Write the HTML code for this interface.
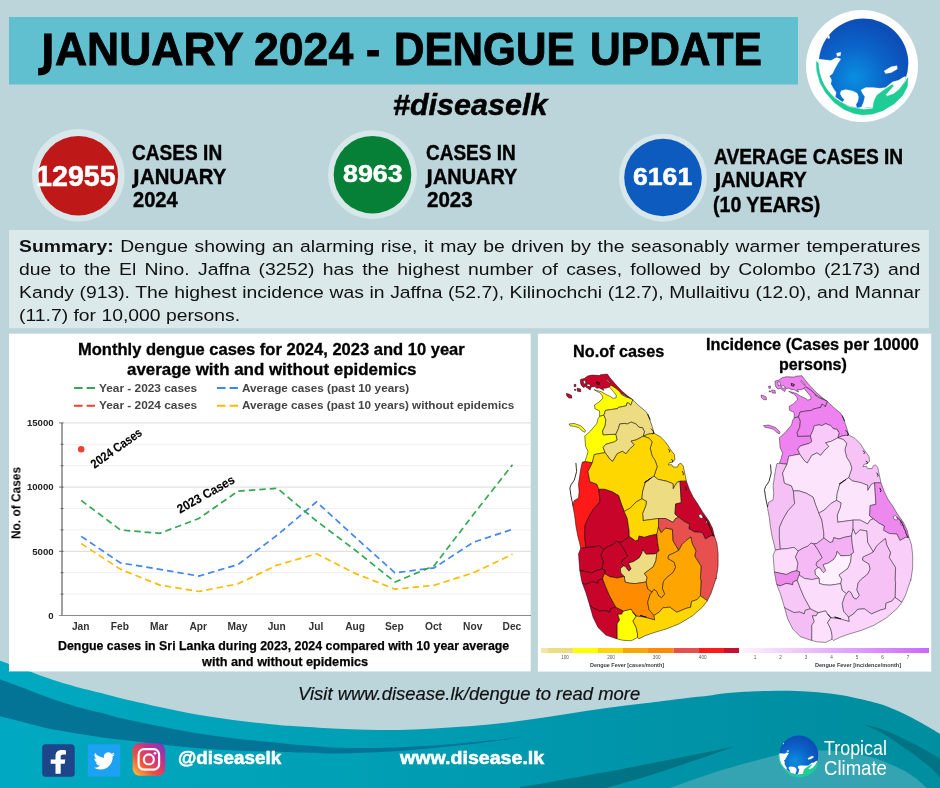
<!DOCTYPE html>
<html><head><meta charset="utf-8"><title>January 2024 - Dengue Update</title>
<style>
html,body{margin:0;padding:0}
body{width:940px;height:788px;position:relative;overflow:hidden;background:#bbd5db;font-family:"Liberation Sans", sans-serif;}
.t{position:absolute;white-space:nowrap;line-height:1;transform-origin:0 50%;}
.abs{position:absolute}
.sj,.sn{position:absolute;left:19.1px;width:810.6px;font-size:17.4px;line-height:1;color:#111;white-space:nowrap;transform:scaleX(1.112);transform-origin:0 50%}
.sj{text-align:justify;text-align-last:justify;white-space:normal}
svg text{font-family:"Liberation Sans", sans-serif;}
</style></head><body>
<div id="root" style="position:absolute;left:0;top:0;width:940px;height:788px;will-change:transform">
<svg class="abs" style="left:0;top:0" width="940" height="788" viewBox="0 0 940 788">
<defs><linearGradient id="ftg" gradientUnits="userSpaceOnUse" x1="0" x2="940" y1="0" y2="0"><stop offset="0" stop-color="#00a9c1"/><stop offset="0.37" stop-color="#00a0b5"/><stop offset="0.64" stop-color="#0095ab"/><stop offset="0.9" stop-color="#008ea1"/><stop offset="1" stop-color="#008ea1"/></linearGradient><linearGradient id="incg" x1="0" x2="1" y1="0" y2="0"><stop offset="0" stop-color="#fdf2fd"/><stop offset="1" stop-color="#cc66ff"/></linearGradient><clipPath id="glca"><circle cx="405" cy="375" r="315"/></clipPath><radialGradient id="glba" cx="0.4" cy="0.66" r="0.62"><stop offset="0" stop-color="#0a8fe0"/><stop offset="0.6" stop-color="#0b62c8"/><stop offset="1" stop-color="#0d4fb8"/></radialGradient><linearGradient id="ig" x1="0" x2="1" y1="1" y2="0"><stop offset="0" stop-color="#fdc843"/><stop offset="0.35" stop-color="#f0503a"/><stop offset="0.7" stop-color="#c42d91"/><stop offset="1" stop-color="#6a3fc8"/></linearGradient></defs>
<path d="M0.0,660.7 C1.5,661.2 3.9,662.1 8.9,663.9 C13.9,665.7 23.0,669.0 30.0,671.6 C37.0,674.2 43.3,676.8 51.1,679.3 C58.9,681.8 68.1,684.6 76.6,686.9 C85.1,689.2 95.0,691.4 102.2,693.3 C109.4,695.1 110.7,695.8 120.0,698.0 C129.3,700.2 145.5,704.0 158.3,706.8 C171.1,709.5 183.8,712.3 196.6,714.5 C209.4,716.7 222.1,718.5 234.9,720.2 C247.7,721.9 262.3,723.5 273.2,724.6 C284.1,725.7 289.1,725.9 300.0,726.6 C310.9,727.3 325.5,728.2 338.3,728.8 C351.1,729.3 363.8,729.8 376.6,729.9 C389.4,730.0 402.1,729.8 414.9,729.4 C427.7,729.0 440.4,728.1 453.2,727.3 C466.0,726.4 478.7,725.6 491.5,724.3 C504.3,723.0 517.2,721.3 530.0,719.5 C542.8,717.7 555.5,715.6 568.3,713.7 C581.1,711.8 593.8,709.8 606.6,708.0 C619.4,706.2 632.1,704.8 644.9,703.2 C657.7,701.6 672.4,699.7 683.2,698.4 C694.1,697.1 703.0,696.4 710.0,695.5 C717.0,694.6 718.7,694.0 725.5,693.3 C732.3,692.6 742.5,691.9 751.0,691.5 C759.5,691.1 768.1,690.8 776.6,690.7 C785.1,690.7 793.5,690.8 802.0,691.2 C810.5,691.6 819.1,692.3 827.6,693.3 C836.1,694.3 844.5,695.6 853.2,697.4 C861.9,699.2 873.4,702.0 880.0,703.9 C886.6,705.8 888.5,706.9 892.8,708.7 C897.0,710.5 901.2,712.4 905.5,714.5 C909.8,716.6 914.0,718.9 918.3,721.2 C922.5,723.5 927.4,726.4 931.0,728.5 C934.6,730.6 938.5,733.0 940.0,733.9  L940,788 L0,788 Z" fill="url(#ftg)"/><path d="M0.0,679.3 C4.2,680.9 17.0,685.6 25.5,688.8 C34.0,692.0 42.6,695.4 51.1,698.4 C59.6,701.4 68.1,704.2 76.6,706.7 C85.1,709.2 95.0,711.2 102.2,713.1 C109.4,715.0 110.7,715.9 120.0,718.0 C129.3,720.1 145.5,723.5 158.3,726.0 C171.1,728.5 183.8,731.1 196.6,733.2 C209.4,735.3 222.1,736.9 234.9,738.4 C247.7,739.9 262.3,741.1 273.2,742.2 C284.1,743.3 289.1,744.1 300.0,745.0 C310.9,745.9 325.5,747.2 338.3,747.7 C351.1,748.2 363.8,748.2 376.6,748.0 C389.4,747.8 402.1,747.2 414.9,746.5 C427.7,745.8 440.4,744.9 453.2,743.9 C466.0,742.9 478.7,741.6 491.5,740.3 C504.3,739.0 523.4,737.0 529.8,736.3  L529.8,736.3 C523.4,737.1 504.3,739.8 491.5,741.4 C478.7,743.0 466.0,744.6 453.2,746.0 C440.4,747.4 427.7,748.8 414.9,749.8 C402.1,750.8 389.4,751.7 376.6,752.3 C363.8,752.9 351.1,753.5 338.3,753.6 C325.5,753.7 310.9,752.9 300.0,752.6 C289.1,752.3 284.1,752.1 273.2,751.8 C262.3,751.4 247.7,751.1 234.9,750.5 C222.1,749.9 209.4,749.0 196.6,748.0 C183.8,747.0 171.1,745.6 158.3,744.2 C145.5,742.8 129.3,740.7 120.0,739.6 C110.7,738.5 109.4,738.4 102.2,737.4 C95.0,736.4 85.1,734.9 76.6,733.5 C68.1,732.1 59.6,730.9 51.1,729.1 C42.6,727.3 34.0,724.8 25.5,722.7 C17.0,720.6 4.2,717.4 0.0,716.3  Z" fill="#047496"/><path d="M520,788 L520,786.9 C535,785 548,782.5 560,780.3 C590,775 615,770.5 636.6,766.3 C655,762.5 672,759.5 687.7,756.1 C705,752.5 722,749 734.9,746.4 C722,751 712,754.5 700.4,758.6 C687,763 675,767 662.1,771.4 C642,778 622,783.5 606,788 Z" fill="#007484"/><path d="M669.8,788 C685,782.5 700,777 713.2,772.7 C730,767.5 748,762.5 760,759.5 C770,756.5 780,754 790,752.5 C800,751 810,750.5 820,750.5 C830,750.5 840,751 850,752.5 C861,754.5 871,757 880,760 C889,763.5 897,767 905,771 C913,775.5 920,781.5 926.6,788 Z" fill="#34a4b3"/><path d="M864.4,724.7 C866.2,725.1 871.5,726.0 875.5,727.2 C879.5,728.4 884.0,730.0 888.3,731.7 C892.5,733.4 897.4,735.7 901.0,737.4 C904.6,739.1 906.8,740.1 910.0,741.7 C913.2,743.3 916.9,745.3 920.3,747.2 C923.7,749.1 927.2,751.0 930.5,753.0 C933.8,755.0 938.4,757.9 940.0,758.9  L940.0,777.5 C939.6,777.1 939.2,776.7 937.6,775.0 C936.0,773.3 933.4,770.1 930.5,767.5 C927.6,764.9 923.7,762.0 920.3,759.4 C916.9,756.8 913.4,754.1 910.2,751.8 C907.0,749.5 904.6,748.2 901.0,745.7 C897.4,743.2 892.5,739.4 888.3,736.8 C884.0,734.1 879.5,731.8 875.5,729.8 C871.5,727.8 866.2,725.6 864.4,724.7  Z" fill="#007484"/>
<rect x="9" y="17" width="789" height="67.5" fill="#60c0d0"/>
<circle cx="862" cy="66" r="56" fill="#fff"/>
<g transform="translate(806,10) scale(0.14213)"><path d="M72,360 L76,430 L98,510 L138,582 L198,650 L268,700 L338,728 L400,738 L470,732 L540,708 L610,660 L665,600 L700,535 L716,478 L700,520 L660,600 L600,655 L520,690 L405,700 L300,680 L200,620 L130,530 L95,440 L86,375 Z" fill="#1dcd94" stroke="#1dcd94" stroke-width="3" stroke-linejoin="round"/><circle cx="405" cy="375" r="315" fill="url(#glba)"/><g clip-path="url(#glca)"><path d="M60,345 L92,345 L130,350 L175,355 L215,335 L245,345 L225,375 L205,410 L185,450 L165,465 L180,490 L175,520 L195,555 L213,580 L206,612 L232,630 L256,648 L270,632 L252,612 L240,590 L247,568 L280,560 L330,570 L360,585 L370,610 L366,640 L352,665 L358,690 L390,682 L404,650 L414,610 L397,585 L387,562 L420,545 L470,545 L520,550 L560,545 L610,505 L650,495 L690,470 L720,470 L780,470 L780,760 L40,760 Z" fill="#fff" stroke="#fff" stroke-width="1.5" stroke-linejoin="round"/><path d="M215,305 L245,298 L242,320 L220,326 Z M550,430 L600,400 L640,393 L642,415 L600,440 L560,446 Z M150,182 L163,178 L166,198 L154,200 Z" fill="#fff" stroke="#fff" stroke-width="3" stroke-linejoin="round"/></g><path d="M470,700 L480,640 L500,600 L560,555 L608,525 L614,535 L578,575 L560,595 L570,608 L620,590 L660,555 L700,505 L716,478 L712,540 L680,600 L620,660 L540,705 Z" fill="#1dcd94" stroke="#1dcd94" stroke-width="5" stroke-linejoin="round"/></g>
<circle cx="78.3" cy="175.3" r="46.3" fill="#d7e7ea"/><circle cx="78.3" cy="175.8" r="39.8" fill="#bf1818"/>
<circle cx="372.5" cy="174.7" r="44.5" fill="#d7e7ea"/><circle cx="372.5" cy="174.7" r="38.8" fill="#058036"/>
<circle cx="663" cy="177.7" r="44" fill="#d7e7ea"/><circle cx="663" cy="177.5" r="38.8" fill="#0e5bbf"/>
<rect x="9" y="230" width="919.8" height="98.3" fill="#dbe9eb"/>
<rect x="9" y="333.7" width="521.7" height="337.7" fill="#fff"/>
<rect x="537.9" y="333.7" width="393.3" height="337.9" fill="#fff"/>
<line x1="62" x2="531" y1="422.9" y2="422.9" stroke="#dadada" stroke-width="1"/><line x1="59" x2="63.5" y1="422.9" y2="422.9" stroke="#555" stroke-width="0.8"/><line x1="62" x2="531" y1="444.3" y2="444.3" stroke="#eeeeee" stroke-width="0.9"/><line x1="60.5" x2="63.5" y1="444.3" y2="444.3" stroke="#555" stroke-width="0.8"/><line x1="62" x2="531" y1="465.7" y2="465.7" stroke="#eeeeee" stroke-width="0.9"/><line x1="60.5" x2="63.5" y1="465.7" y2="465.7" stroke="#555" stroke-width="0.8"/><line x1="62" x2="531" y1="487.1" y2="487.1" stroke="#dadada" stroke-width="1"/><line x1="59" x2="63.5" y1="487.1" y2="487.1" stroke="#555" stroke-width="0.8"/><line x1="62" x2="531" y1="508.5" y2="508.5" stroke="#eeeeee" stroke-width="0.9"/><line x1="60.5" x2="63.5" y1="508.5" y2="508.5" stroke="#555" stroke-width="0.8"/><line x1="62" x2="531" y1="529.9" y2="529.9" stroke="#eeeeee" stroke-width="0.9"/><line x1="60.5" x2="63.5" y1="529.9" y2="529.9" stroke="#555" stroke-width="0.8"/><line x1="62" x2="531" y1="551.3" y2="551.3" stroke="#dadada" stroke-width="1"/><line x1="59" x2="63.5" y1="551.3" y2="551.3" stroke="#555" stroke-width="0.8"/><line x1="62" x2="531" y1="572.7" y2="572.7" stroke="#eeeeee" stroke-width="0.9"/><line x1="60.5" x2="63.5" y1="572.7" y2="572.7" stroke="#555" stroke-width="0.8"/><line x1="62" x2="531" y1="594.1" y2="594.1" stroke="#eeeeee" stroke-width="0.9"/><line x1="60.5" x2="63.5" y1="594.1" y2="594.1" stroke="#555" stroke-width="0.8"/><line x1="62" x2="62" y1="422.9" y2="615.5" stroke="#444" stroke-width="1"/><line x1="59" x2="531" y1="615.5" y2="615.5" stroke="#888" stroke-width="1.2"/><polyline points="81.2,543.6 120.5,569.3 159.7,585.1 198.9,591.5 238.1,583.8 277.3,565.1 316.5,553.8 355.7,573.6 394.9,589.2 434.1,585.3 473.3,572.8 512.5,554.3" fill="none" stroke="#fbbc04" stroke-width="1.7" stroke-dasharray="6.5 4"/><polyline points="81.2,536.4 120.5,562.9 159.7,569.3 198.9,576.1 238.1,564.5 277.3,535.1 316.5,501.8 355.7,537.7 394.9,572.8 434.1,567.9 473.3,542.3 512.5,529.3" fill="none" stroke="#4285f4" stroke-width="1.7" stroke-dasharray="6.5 4"/><polyline points="81.2,500.4 120.5,530.0 159.7,533.3 198.9,518.5 238.1,491.1 277.3,488.3 316.5,521.0 355.7,550.5 394.9,582.0 434.1,565.8 473.3,514.6 512.5,464.7" fill="none" stroke="#34a853" stroke-width="1.7" stroke-dasharray="6.5 4"/><circle cx="81.2" cy="449.2" r="3.3" fill="#ea4335"/><line x1="74" x2="95" y1="388" y2="388" stroke="#34a853" stroke-width="2.1" stroke-dasharray="8.6 4"/><line x1="74" x2="95" y1="405.7" y2="405.7" stroke="#ea4335" stroke-width="2.1" stroke-dasharray="8.6 4"/><line x1="217" x2="238" y1="388" y2="388" stroke="#4285f4" stroke-width="2.1" stroke-dasharray="8.6 4"/><line x1="217" x2="238" y1="405.7" y2="405.7" stroke="#fbbc04" stroke-width="2.1" stroke-dasharray="8.6 4"/><text x="53.6" y="618.8" text-anchor="end" font-size="9.6" font-weight="bold" fill="#222">0</text><text x="53.6" y="554.6" text-anchor="end" font-size="9.6" font-weight="bold" fill="#222">5000</text><text x="53.6" y="490.4" text-anchor="end" font-size="9.6" font-weight="bold" fill="#222">10000</text><text x="53.6" y="426.2" text-anchor="end" font-size="9.6" font-weight="bold" fill="#222">15000</text><text x="80.7" y="630.3" text-anchor="middle" font-size="10.2" font-weight="bold" fill="#333">Jan</text><text x="119.9" y="630.3" text-anchor="middle" font-size="10.2" font-weight="bold" fill="#333">Feb</text><text x="159.1" y="630.3" text-anchor="middle" font-size="10.2" font-weight="bold" fill="#333">Mar</text><text x="198.3" y="630.3" text-anchor="middle" font-size="10.2" font-weight="bold" fill="#333">Apr</text><text x="237.5" y="630.3" text-anchor="middle" font-size="10.2" font-weight="bold" fill="#333">May</text><text x="276.7" y="630.3" text-anchor="middle" font-size="10.2" font-weight="bold" fill="#333">Jun</text><text x="315.9" y="630.3" text-anchor="middle" font-size="10.2" font-weight="bold" fill="#333">Jul</text><text x="355.1" y="630.3" text-anchor="middle" font-size="10.2" font-weight="bold" fill="#333">Aug</text><text x="394.3" y="630.3" text-anchor="middle" font-size="10.2" font-weight="bold" fill="#333">Sep</text><text x="433.5" y="630.3" text-anchor="middle" font-size="10.2" font-weight="bold" fill="#333">Oct</text><text x="472.7" y="630.3" text-anchor="middle" font-size="10.2" font-weight="bold" fill="#333">Nov</text><text x="511.9" y="630.3" text-anchor="middle" font-size="10.2" font-weight="bold" fill="#333">Dec</text><text transform="translate(16.4,503) rotate(-90)" text-anchor="middle" font-size="12.8" font-weight="bold" y="4.4" textLength="72" lengthAdjust="spacingAndGlyphs">No. of Cases</text><text transform="translate(94.6,468.9) rotate(-35.5)" font-size="12.6" font-weight="bold" stroke="#000" stroke-width="0.12" textLength="59.5" lengthAdjust="spacingAndGlyphs">2024 Cases</text><text transform="translate(180,513.8) rotate(-29.5)" font-size="12.6" font-weight="bold" stroke="#000" stroke-width="0.12" textLength="64" lengthAdjust="spacingAndGlyphs">2023 Cases</text>
<g stroke="#000" stroke-width="0.5" stroke-linejoin="round"><polygon points="580.5,379.4 584.3,378.5 587.7,376.0 591.9,375.1 599.6,375.5 600.5,374.7 607.3,374.1 610.2,378.1 614.9,383.6 621.7,390.9 627.7,396.0 632.8,399.8 626.4,396.8 621.7,394.3 620.0,392.1 615.8,388.3 611.1,385.3 609.4,387.0 605.5,388.3 603.0,387.9 603.9,390.4 601.3,389.1 599.2,387.9 596.6,388.3 594.9,386.6 591.1,387.0 590.2,390.0 587.7,388.3 585.5,386.6 583.4,387.4 581.3,385.3 580.5,382.8" fill="#c8042a"/><polygon points="574.1,384.5 575.8,384.3 575.9,386.6 574.2,386.7" fill="#c8042a"/><polygon points="577.0,388.3 580.5,388.9 580.9,391.7 577.5,391.3" fill="#c8042a"/><polygon points="566.4,393.4 569.0,394.1 571.5,395.5 571.9,398.1 569.0,398.1 566.8,396.0" fill="#c8042a"/><polygon points="574.5,389.1 575.9,389.4 575.8,390.4 574.6,390.3" fill="#c8042a"/><polygon points="594.1,389.6 596.6,390.4 598.7,390.9 602.1,392.1 605.5,394.3 610.2,396.4 613.2,398.5 616.2,397.7 616.2,395.1 613.2,391.3 609.4,387.0 611.1,385.3 615.8,388.3 620.0,392.1 621.7,394.3 626.4,396.8 632.8,399.8 630.7,405.3 628.5,402.8 626.8,403.2 626.4,405.7 622.6,406.6 618.3,407.4 617.5,408.7 610.7,409.6 605.5,410.4 603.9,415.1 599.6,416.4 599.6,410.9 594.9,408.7 594.5,404.9 598.7,402.3 603.0,398.1 602.1,395.5 599.6,392.6 596.6,391.3" fill="#ffff00"/><polygon points="599.6,416.4 603.9,415.1 605.8,419.6 605.1,425.9 602.6,431.0 603.2,434.8 615.9,434.2 617.2,439.9 614.6,441.8 605.8,444.3 603.2,447.5 605.1,452.6 594.3,454.5 593.1,459.5 592.4,462.7 584.8,461.7 586.7,456.4 588.0,451.3 585.5,446.2 584.8,436.1 590.5,431.0 596.9,423.4 598.1,418.3" fill="#ffff00"/><polygon points="569.0,424.0 574.0,423.4 581.0,425.9 585.5,430.4 584.8,432.3 582.3,431.0 579.1,427.8 575.3,426.6 570.2,425.7" fill="#ffff00"/><polygon points="603.9,415.1 605.5,410.4 610.7,409.6 617.5,408.7 618.3,407.4 622.6,406.6 626.4,405.7 626.8,403.2 628.5,402.8 630.7,405.3 632.8,399.8 638.8,405.6 646.4,411.9 650.2,419.6 647.7,414.0 650.9,422.8 652.8,428.6 654.0,433.2 647.7,434.3 643.2,436.2 644.5,431.1 643.8,430.4 642.6,427.8 638.8,427.2 636.2,424.0 631.1,422.1 627.3,424.0 624.8,423.4 619.7,424.0 618.5,428.4 615.9,434.2 603.2,434.8 602.6,431.0 605.1,425.9 605.8,419.6" fill="#eedc82"/><polygon points="615.9,434.2 618.5,428.4 619.7,424.0 624.8,423.4 627.3,424.0 631.1,422.1 636.2,424.0 638.8,427.2 642.6,427.8 643.8,430.4 644.5,431.1 643.2,436.2 636.2,439.9 631.1,441.1 634.3,444.9 629.9,448.8 626.1,453.8 622.3,451.3 617.2,453.8 612.7,461.4 609.6,458.9 605.1,452.6 603.2,447.5 605.8,444.3 614.6,441.8 617.2,439.9" fill="#eedc82"/><polygon points="643.2,436.2 647.7,434.3 654.0,433.2 660.4,436.8 665.5,441.9 670.5,449.5 674.3,454.6 675.0,459.6 672.4,462.2 669.3,462.8 668.2,465.0 671.8,464.7 673.1,467.0 677.5,467.0 678.8,464.1 680.9,463.2 683.2,466.0 684.5,472.3 686.4,481.2 680.0,481.2 676.9,482.5 673.1,488.8 673.1,483.8 666.7,481.2 657.8,479.3 654.0,476.1 657.2,466.6 655.3,460.9 652.1,455.8 650.2,448.2 652.1,441.9 649.0,438.1" fill="#ffd700"/><polygon points="584.8,461.7 592.4,462.7 588.0,471.5 589.9,481.6 596.9,484.2 598.8,489.3 600.0,501.9 593.1,509.6 588.0,518.5 584.8,526.1 584.8,536.2 585.8,547.6 580.7,548.5 579.8,543.8 577.8,536.2 575.9,526.1 574.7,515.9 572.8,505.8 574.0,500.7 578.5,498.1 579.1,491.8 578.5,484.2 579.8,475.3 581.0,467.7 582.3,462.0 584.8,461.7" fill="#ff1a1a"/><polygon points="605.1,452.6 609.6,458.9 612.7,461.4 617.2,453.8 622.3,451.3 626.1,453.8 629.9,448.8 634.3,444.9 631.1,441.1 636.2,439.9 643.2,436.2 649.0,438.1 652.1,441.9 650.2,448.2 652.1,455.8 655.3,460.9 657.2,466.6 654.0,476.1 644.5,482.5 651.5,477.8 645.1,482.9 642.6,491.8 641.9,498.8 636.2,501.9 629.9,508.3 624.2,511.5 621.0,503.2 618.5,495.6 612.1,491.8 604.5,489.3 598.8,489.3 596.9,484.2 589.9,481.6 588.0,471.5 592.4,462.7 593.1,459.5 594.3,454.5" fill="#ffd700"/><polygon points="598.8,489.3 604.5,489.3 612.1,491.8 618.5,495.6 621.0,503.2 624.2,511.5 627.3,518.5 629.2,531.1 629.3,536.5 622.2,541.9 619.1,542.3 616.4,541.4 613.3,544.5 608.9,546.3 603.5,549.4 599.4,545.7 593.1,547.0 585.8,547.6 584.8,536.2 584.8,526.1 588.0,518.5 593.1,509.6 600.0,501.9" fill="#c8042a"/><polygon points="641.9,498.8 642.6,491.8 645.1,482.9 651.5,477.8 644.5,482.5 654.0,476.1 657.8,479.3 666.7,481.2 673.1,483.8 673.1,488.8 676.9,482.5 680.0,481.2 681.3,502.7 675.6,504.0 675.0,514.1 678.8,517.3 675.6,518.5 673.1,522.4 665.5,518.5 658.5,518.5 649.0,519.8 643.9,520.5 643.2,521.0 642.6,513.4 645.7,505.8 646.4,501.3" fill="#eedc82"/><polygon points="680.0,481.2 686.4,481.2 689.6,490.0 693.4,497.6 697.8,504.0 702.3,511.6 708.6,520.5 712.4,528.1 714.3,535.7 711.1,535.7 705.4,538.9 702.3,532.5 694.6,531.9 688.9,528.7 689.6,524.3 684.5,521.7 678.8,517.3 675.0,514.1 675.6,504.0 681.3,502.7" fill="#c8042a"/><polygon points="624.2,511.5 629.9,508.3 636.2,501.9 641.9,498.8 646.4,501.3 645.7,505.8 642.6,513.4 643.2,521.0 643.9,520.5 649.0,519.8 658.5,518.5 658.5,526.8 656.9,534.3 649.8,535.7 644.4,537.4 639.1,536.1 638.2,540.1 635.5,541.0 629.3,536.5 629.2,531.1 627.3,518.5" fill="#ffd700"/><polygon points="629.3,536.5 635.5,541.0 638.2,540.1 639.1,536.1 644.4,537.4 649.8,535.7 656.9,534.3 657.7,542.8 659.1,550.8 656.9,552.5 655.1,553.9 646.2,554.3 644.0,551.6 642.6,549.9 641.8,553.4 639.1,557.9 633.8,561.4 628.4,563.2 630.6,567.6 631.1,569.0 628.9,571.2 626.6,568.5 625.8,566.8 623.5,565.9 621.3,563.2 622.2,560.5 627.5,556.1 626.6,554.3 623.1,548.1 619.1,542.3 622.2,541.9" fill="#c8042a"/><polygon points="619.1,542.3 616.4,541.4 613.3,544.5 608.9,546.3 603.5,549.4 600.7,555.1 603.2,561.5 602.0,569.1 605.1,570.4 604.5,573.5 609.6,576.7 617.2,578.0 624.4,576.5 620.9,573.0 620.4,568.5 623.5,565.9 621.3,563.2 622.2,560.5 627.5,556.1 626.6,554.3 623.1,548.1" fill="#c8042a"/><polygon points="580.7,548.5 585.8,547.6 593.1,547.0 599.4,545.7 603.5,549.4 600.7,555.1 603.2,561.5 602.0,569.1 596.9,570.4 591.8,572.9 585.5,571.6 579.8,570.4 578.5,553.9" fill="#c8042a"/><polygon points="579.8,570.4 585.5,571.6 591.8,572.9 596.9,570.4 602.0,569.1 605.1,570.4 604.5,573.5 602.6,578.6 598.1,580.5 598.1,583.1 591.8,581.8 585.5,584.3 582.3,583.1 581.6,580.5" fill="#c8042a"/><polygon points="582.3,583.1 585.5,584.3 591.8,581.8 598.1,583.1 598.1,580.5 602.6,578.6 605.8,586.9 609.6,595.8 615.9,607.2 610.8,608.5 609.6,612.3 605.1,610.4 599.4,611.0 591.8,607.2 589.9,605.9 586.1,593.2" fill="#c8042a"/><polygon points="589.9,605.9 591.8,607.2 599.4,611.0 605.1,610.4 609.6,612.3 610.8,608.5 615.9,607.2 623.5,611.0 621.6,614.2 617.8,614.2 619.7,619.9 617.2,623.7 617.2,638.9 605.8,635.1 598.1,627.5 593.1,617.3" fill="#c8042a"/><polygon points="617.2,638.9 617.2,623.7 619.7,619.9 617.8,614.2 621.6,614.2 623.5,611.0 631.1,609.1 633.0,612.3 636.2,616.1 633.0,621.1 636.2,627.5 637.5,633.8 637.5,637.6 631.1,640.8 622.3,640.2" fill="#ffff00"/><polygon points="656.9,552.5 655.1,553.9 646.2,554.3 644.0,551.6 642.6,549.9 641.8,553.4 639.1,557.9 633.8,561.4 628.4,563.2 630.6,567.6 631.1,569.0 628.9,571.2 626.6,568.5 625.8,566.8 623.5,565.9 620.4,568.5 620.9,573.0 624.4,576.5 624.9,581.9 629.3,583.2 635.5,583.6 641.8,582.7 646.2,581.9 647.1,577.4 644.4,573.4 649.8,569.4 653.3,566.8 656.0,560.5" fill="#eedc82"/><polygon points="604.5,573.5 609.6,576.7 617.2,578.0 624.4,576.5 624.9,581.9 629.3,583.2 635.5,583.6 641.8,582.7 646.2,581.9 647.7,588.8 652.1,592.0 650.2,594.5 647.7,602.1 649.0,609.7 654.0,615.4 654.7,619.9 647.7,618.0 640.1,615.4 646.4,617.3 636.2,616.1 633.0,612.3 631.1,609.1 623.5,611.0 615.9,607.2 609.6,595.8 605.8,586.9 602.6,578.6" fill="#ff8c00"/><polygon points="658.5,526.8 656.9,534.3 657.7,542.8 659.1,550.8 656.9,552.5 656.0,560.5 653.3,566.8 649.8,569.4 644.4,573.4 647.1,577.4 646.2,581.9 647.7,588.8 652.1,592.0 654.0,589.4 656.6,591.3 658.5,595.8 661.6,597.7 664.8,593.9 662.3,588.1 663.5,581.4 666.7,577.6 673.1,572.5 675.6,567.4 674.3,562.3 668.0,558.5 668.6,555.4 675.6,552.2 678.8,550.3 673.1,540.8 672.4,529.3 665.5,528.1 661.0,532.5" fill="#ffa500"/><polygon points="658.5,518.5 665.5,518.5 673.1,522.4 675.6,518.5 678.8,517.3 684.5,521.7 689.6,524.3 688.9,528.7 694.6,531.9 702.3,532.5 705.4,538.9 711.1,535.7 714.3,535.7 716.9,543.3 718.1,553.5 718.1,566.1 716.2,578.8 716.2,578.0 711.1,593.2 707.3,600.8 700.4,595.8 701.0,580.5 700.4,578.8 701.0,566.1 694.6,556.0 695.9,550.9 692.1,543.3 690.8,537.0 685.8,540.8 682.0,544.6 678.8,550.3 673.1,540.8 672.4,529.3 665.5,528.1 661.0,532.5 658.5,526.8" fill="#e85050"/><polygon points="678.8,550.3 682.0,544.6 685.8,540.8 690.8,537.0 692.1,543.3 695.9,550.9 694.6,556.0 701.0,566.1 700.4,578.8 701.0,580.5 700.4,595.8 697.2,599.6 691.5,601.5 690.8,607.2 685.8,608.5 676.9,612.3 673.1,609.7 669.9,607.2 662.9,607.8 659.1,612.3 654.0,615.4 649.0,609.7 647.7,602.1 650.2,594.5 652.1,592.0 654.0,589.4 656.6,591.3 658.5,595.8 661.6,597.7 664.8,593.9 662.3,588.1 663.5,581.4 666.7,577.6 673.1,572.5 675.6,567.4 674.3,562.3 668.0,558.5 668.6,555.4 675.6,552.2" fill="#ffa500"/><polygon points="700.4,595.8 707.3,600.8 702.3,607.2 692.1,616.1 679.4,623.7 666.7,628.8 654.0,632.6 645.1,635.7 638.8,638.9 637.5,637.6 637.5,633.8 636.2,627.5 633.0,621.1 636.2,616.1 633.0,612.3 636.2,616.1 646.4,617.3 640.1,615.4 647.7,618.0 654.7,619.9 654.0,615.4 659.1,612.3 662.9,607.8 669.9,607.2 673.1,609.7 676.9,612.3 685.8,608.5 690.8,607.2 691.5,601.5 697.2,599.6" fill="#ffd700"/><polyline points="575.9,462.9 576.6,471.5 574.3,480.1 571.0,484.8 569.9,488.0 570.9,495.6 573.0,505.5" fill="none" stroke="#000" stroke-width="0.8"/><polygon points="583.0,380.6 585.1,380.2 586.0,383.6 583.9,384.0" fill="#fff"/><polygon points="586.4,384.5 589.4,384.0 590.7,386.2 587.7,386.6" fill="#fff"/><polygon points="698.5,515.0 701.0,514.0 703.5,517.0 701.5,518.5 699.5,517.5" fill="#fff"/><polygon points="705.8,520.0 707.3,520.5 708.0,523.8 706.5,523.5" fill="#fff"/><polygon points="606.8,378.9 610.7,383.6 609.8,383.6 606.4,379.8" fill="#fff"/><polygon points="620.9,393.1 627.7,397.0 626.4,397.1 621.7,394.6" fill="#fff"/><polyline points="702.0,515.5 704.5,518.0 706.0,519.0 707.5,522.0 709.0,524.5 709.5,527.0 711.0,529.5 711.5,532.0 713.0,535.0 713.6,536.5" fill="none" stroke="#000" stroke-width="0.8"/><polyline points="596.6,381.9 599.6,382.8 599.2,384.5 597.0,384.0 596.6,381.9" fill="none" stroke="#000" stroke-width="0.8"/><polyline points="668.2,448.9 669.9,450.8 669.3,452.3" fill="none" stroke="#000" stroke-width="0.8"/><polyline points="671.2,459.4 673.1,460.7 672.1,462.4" fill="none" stroke="#000" stroke-width="0.8"/><polyline points="682.2,471.1 683.5,473.6 683.0,475.1" fill="none" stroke="#000" stroke-width="0.8"/><polyline points="685.1,486.3 686.4,488.8 685.8,490.4" fill="none" stroke="#000" stroke-width="0.8"/><polyline points="650.9,428.6 652.8,430.5 654.0,433.2 652.5,434.0" fill="none" stroke="#000" stroke-width="0.8"/></g>
<g stroke="#000" stroke-width="0.42" stroke-linejoin="round"><polygon points="775.1,381.0 778.9,380.1 782.3,377.6 786.5,376.7 794.2,377.1 795.1,376.3 801.9,375.7 804.8,379.7 809.5,385.2 816.3,392.5 822.3,397.6 827.4,401.4 821.0,398.4 816.3,395.9 814.6,393.7 810.4,389.9 805.7,386.9 804.0,388.6 800.1,389.9 797.6,389.5 798.5,392.0 795.9,390.8 793.8,389.5 791.2,389.9 789.5,388.2 785.7,388.6 784.8,391.6 782.3,389.9 780.1,388.2 778.0,389.1 775.9,386.9 775.1,384.4" fill="#ee82ee"/><polygon points="768.7,386.1 770.4,385.9 770.5,388.2 768.8,388.3" fill="#ee82ee"/><polygon points="771.6,389.9 775.1,390.5 775.5,393.3 772.1,392.9" fill="#ee82ee"/><polygon points="761.0,395.0 763.6,395.7 766.1,397.1 766.5,399.7 763.6,399.7 761.4,397.6" fill="#ee82ee"/><polygon points="769.1,390.8 770.5,391.0 770.4,392.0 769.2,391.9" fill="#ee82ee"/><polygon points="788.7,391.2 791.2,392.0 793.3,392.5 796.8,393.7 800.1,395.9 804.8,398.0 807.8,400.1 810.8,399.3 810.8,396.7 807.8,392.9 804.0,388.6 805.7,386.9 810.4,389.9 814.6,393.7 816.3,395.9 821.0,398.4 827.4,401.4 825.3,406.9 823.1,404.4 821.4,404.8 821.0,407.3 817.2,408.2 812.9,409.1 812.1,410.3 805.3,411.2 800.1,412.0 798.5,416.7 794.2,418.0 794.2,412.5 789.5,410.3 789.1,406.5 793.3,403.9 797.6,399.7 796.8,397.1 794.2,394.2 791.2,392.9" fill="#ee82ee"/><polygon points="794.2,418.0 798.5,416.7 800.4,421.2 799.7,427.5 797.2,432.6 797.8,436.4 810.5,435.8 811.8,441.5 809.2,443.4 800.4,445.9 797.8,449.1 799.7,454.2 788.9,456.1 787.7,461.1 787.0,464.3 779.4,463.3 781.3,458.0 782.6,452.9 780.1,447.8 779.4,437.7 785.1,432.6 791.5,425.0 792.8,419.9" fill="#ee82ee"/><polygon points="763.6,425.6 768.6,425.0 775.6,427.5 780.1,432.0 779.4,433.9 776.9,432.6 773.7,429.4 769.9,428.2 764.8,427.3" fill="#ee82ee"/><polygon points="798.5,416.7 800.1,412.0 805.3,411.2 812.1,410.3 812.9,409.1 817.2,408.2 821.0,407.3 821.4,404.8 823.1,404.4 825.3,406.9 827.4,401.4 833.4,407.2 841.0,413.6 844.8,421.2 842.3,415.6 845.5,424.4 847.4,430.2 848.6,434.9 842.3,435.9 837.9,437.8 839.1,432.7 838.4,432.0 837.2,429.4 833.4,428.8 830.8,425.6 825.7,423.7 821.9,425.6 819.4,425.0 814.3,425.6 813.1,430.1 810.5,435.8 797.8,436.4 797.2,432.6 799.7,427.5 800.4,421.2" fill="#ee82ee"/><polygon points="810.5,435.8 813.1,430.1 814.3,425.6 819.4,425.0 821.9,425.6 825.7,423.7 830.8,425.6 833.4,428.8 837.2,429.4 838.4,432.0 839.1,432.7 837.9,437.8 830.8,441.5 825.7,442.7 828.9,446.6 824.5,450.4 820.7,455.4 816.9,452.9 811.8,455.4 807.3,463.1 804.2,460.5 799.7,454.2 797.8,449.1 800.4,445.9 809.2,443.4 811.8,441.5" fill="#f9c9f9"/><polygon points="837.9,437.8 842.3,435.9 848.6,434.9 855.0,438.4 860.1,443.5 865.1,451.1 868.9,456.2 869.6,461.2 867.0,463.8 863.9,464.4 862.9,466.6 866.4,466.3 867.7,468.6 872.1,468.6 873.4,465.7 875.5,464.8 877.8,467.6 879.1,473.9 881.0,482.8 874.6,482.8 871.5,484.1 867.7,490.4 867.7,485.4 861.3,482.8 852.4,480.9 848.6,477.7 851.8,468.2 849.9,462.5 846.7,457.4 844.8,449.8 846.7,443.5 843.6,439.7" fill="#f7c3f7"/><polygon points="779.4,463.3 787.0,464.3 782.6,473.1 784.5,483.2 791.5,485.8 793.4,490.9 794.6,503.6 787.7,511.2 782.6,520.1 779.4,527.7 779.4,537.8 780.4,549.2 775.3,550.1 774.4,545.4 772.4,537.8 770.5,527.7 769.3,517.5 767.4,507.4 768.6,502.3 773.1,499.8 773.7,493.4 773.1,485.8 774.4,476.9 775.6,469.3 776.9,463.6 779.4,463.3" fill="#f5c0f5"/><polygon points="799.7,454.2 804.2,460.5 807.3,463.1 811.8,455.4 816.9,452.9 820.7,455.4 824.5,450.4 828.9,446.6 825.7,442.7 830.8,441.5 837.9,437.8 843.6,439.7 846.7,443.5 844.8,449.8 846.7,457.4 849.9,462.5 851.8,468.2 848.6,477.7 839.1,484.1 846.1,479.4 839.7,484.5 837.2,493.4 836.5,500.4 830.8,503.6 824.5,509.9 818.8,513.1 815.6,504.8 813.1,497.2 806.7,493.4 799.1,490.9 793.4,490.9 791.5,485.8 784.5,483.2 782.6,473.1 787.0,464.3 787.7,461.1 788.9,456.1" fill="#fde4fd"/><polygon points="793.4,490.9 799.1,490.9 806.7,493.4 813.1,497.2 815.6,504.8 818.8,513.1 821.9,520.1 823.8,532.7 823.9,538.1 816.8,543.5 813.7,543.9 811.0,543.0 807.9,546.1 803.5,547.9 798.1,551.0 794.0,547.3 787.7,548.6 780.4,549.2 779.4,537.8 779.4,527.7 782.6,520.1 787.7,511.2 794.6,503.6" fill="#f7cbf7"/><polygon points="836.5,500.4 837.2,493.4 839.7,484.5 846.1,479.4 839.1,484.1 848.6,477.7 852.4,480.9 861.3,482.8 867.7,485.4 867.7,490.4 871.5,484.1 874.6,482.8 875.9,504.3 870.2,505.6 869.6,515.7 873.4,518.9 870.2,520.1 867.7,524.0 860.1,520.1 853.1,520.1 843.6,521.4 838.5,522.1 837.8,522.6 837.2,515.0 840.3,507.4 841.0,502.9" fill="#fde4fd"/><polygon points="874.6,482.8 881.0,482.8 884.2,491.6 888.0,499.2 892.4,505.6 896.9,513.2 903.2,522.1 907.0,529.7 908.9,537.3 905.7,537.3 900.0,540.5 896.9,534.1 889.2,533.5 883.5,530.3 884.2,525.9 879.1,523.3 873.4,518.9 869.6,515.7 870.2,505.6 875.9,504.3" fill="#ed88ee"/><polygon points="818.8,513.1 824.5,509.9 830.8,503.6 836.5,500.4 841.0,502.9 840.3,507.4 837.2,515.0 837.8,522.6 838.5,522.1 843.6,521.4 853.1,520.1 853.1,528.4 851.5,535.9 844.4,537.3 839.0,539.0 833.7,537.7 832.8,541.7 830.1,542.6 823.9,538.1 823.8,532.7 821.9,520.1" fill="#f9cff9"/><polygon points="823.9,538.1 830.1,542.6 832.8,541.7 833.7,537.7 839.0,539.0 844.4,537.3 851.5,535.9 852.3,544.4 853.7,552.4 851.5,554.1 849.7,555.5 840.8,555.9 838.6,553.2 837.2,551.5 836.4,555.0 833.7,559.5 828.4,563.0 823.0,564.8 825.2,569.2 825.7,570.6 823.5,572.8 821.2,570.1 820.4,568.4 818.1,567.5 815.9,564.8 816.8,562.1 822.1,557.7 821.2,555.9 817.7,549.7 813.7,543.9 816.8,543.5" fill="#f4b0f4"/><polygon points="813.7,543.9 811.0,543.0 807.9,546.1 803.5,547.9 798.1,551.0 795.3,556.8 797.8,563.1 796.6,570.7 799.7,572.0 799.1,575.1 804.2,578.3 811.8,579.6 819.0,578.1 815.5,574.6 815.0,570.1 818.1,567.5 815.9,564.8 816.8,562.1 822.1,557.7 821.2,555.9 817.7,549.7" fill="#f5b9f5"/><polygon points="775.3,550.1 780.4,549.2 787.7,548.6 794.0,547.3 798.1,551.0 795.3,556.8 797.8,563.1 796.6,570.7 791.5,572.0 786.4,574.5 780.1,573.2 774.4,572.0 773.1,555.5" fill="#fbdafb"/><polygon points="774.4,572.0 780.1,573.2 786.4,574.5 791.5,572.0 796.6,570.7 799.7,572.0 799.1,575.1 797.2,580.2 792.8,582.1 792.8,584.7 786.4,583.4 780.1,585.9 776.9,584.7 776.2,582.1" fill="#ee8cee"/><polygon points="776.9,584.7 780.1,585.9 786.4,583.4 792.8,584.7 792.8,582.1 797.2,580.2 800.4,588.5 804.2,597.4 810.5,608.8 805.4,610.1 804.2,613.9 799.7,612.0 794.0,612.6 786.4,608.8 784.5,607.5 780.7,594.8" fill="#f7c7f7"/><polygon points="784.5,607.5 786.4,608.8 794.0,612.6 799.7,612.0 804.2,613.9 805.4,610.1 810.5,608.8 818.1,612.6 816.2,615.8 812.4,615.8 814.3,621.5 811.8,625.3 811.8,640.5 800.4,636.7 792.8,629.1 787.7,618.9" fill="#f5bdf5"/><polygon points="811.8,640.5 811.8,625.3 814.3,621.5 812.4,615.8 816.2,615.8 818.1,612.6 825.7,610.7 827.6,613.9 830.8,617.7 827.6,622.7 830.8,629.1 832.1,635.4 832.1,639.2 825.7,642.4 816.9,641.8" fill="#fce0fc"/><polygon points="851.5,554.1 849.7,555.5 840.8,555.9 838.6,553.2 837.2,551.5 836.4,555.0 833.7,559.5 828.4,563.0 823.0,564.8 825.2,569.2 825.7,570.6 823.5,572.8 821.2,570.1 820.4,568.4 818.1,567.5 815.0,570.1 815.5,574.6 819.0,578.1 819.5,583.5 823.9,584.8 830.1,585.2 836.4,584.3 840.8,583.5 841.7,579.0 839.0,575.0 844.4,571.0 847.9,568.4 850.6,562.1" fill="#fef0fe"/><polygon points="799.1,575.1 804.2,578.3 811.8,579.6 819.0,578.1 819.5,583.5 823.9,584.8 830.1,585.2 836.4,584.3 840.8,583.5 842.3,590.4 846.7,593.6 844.8,596.1 842.3,603.7 843.6,611.3 848.6,617.0 849.3,621.5 842.3,619.6 834.7,617.0 841.0,618.9 830.8,617.7 827.6,613.9 825.7,610.7 818.1,612.6 810.5,608.8 804.2,597.4 800.4,588.5 797.2,580.2" fill="#fbdcfb"/><polygon points="853.1,528.4 851.5,535.9 852.3,544.4 853.7,552.4 851.5,554.1 850.6,562.1 847.9,568.4 844.4,571.0 839.0,575.0 841.7,579.0 840.8,583.5 842.3,590.4 846.7,593.6 848.6,591.0 851.2,592.9 853.1,597.4 856.2,599.3 859.4,595.5 856.9,589.8 858.1,583.0 861.3,579.2 867.7,574.1 870.2,569.0 868.9,563.9 862.6,560.1 863.2,557.0 870.2,553.8 873.4,551.9 867.7,542.4 867.0,530.9 860.1,529.7 855.6,534.1" fill="#fad6fa"/><polygon points="853.1,520.1 860.1,520.1 867.7,524.0 870.2,520.1 873.4,518.9 879.1,523.3 884.2,525.9 883.5,530.3 889.2,533.5 896.9,534.1 900.0,540.5 905.7,537.3 908.9,537.3 911.5,544.9 912.7,555.1 912.7,567.7 910.8,580.4 910.8,579.6 905.7,594.8 901.9,602.4 895.0,597.4 895.6,582.1 895.0,580.4 895.6,567.7 889.2,557.6 890.5,552.5 886.7,544.9 885.4,538.6 880.4,542.4 876.6,546.2 873.4,551.9 867.7,542.4 867.0,530.9 860.1,529.7 855.6,534.1 853.1,528.4" fill="#f9cef9"/><polygon points="873.4,551.9 876.6,546.2 880.4,542.4 885.4,538.6 886.7,544.9 890.5,552.5 889.2,557.6 895.6,567.7 895.0,580.4 895.6,582.1 895.0,597.4 891.8,601.2 886.1,603.1 885.4,608.8 880.4,610.1 871.5,613.9 867.7,611.3 864.5,608.8 857.5,609.4 853.7,613.9 848.6,617.0 843.6,611.3 842.3,603.7 844.8,596.1 846.7,593.6 848.6,591.0 851.2,592.9 853.1,597.4 856.2,599.3 859.4,595.5 856.9,589.8 858.1,583.0 861.3,579.2 867.7,574.1 870.2,569.0 868.9,563.9 862.6,560.1 863.2,557.0 870.2,553.8" fill="#f6c2f6"/><polygon points="895.0,597.4 901.9,602.4 896.9,608.8 886.7,617.7 874.0,625.3 861.3,630.4 848.6,634.2 839.8,637.3 833.4,640.5 832.1,639.2 832.1,635.4 830.8,629.1 827.6,622.7 830.8,617.7 827.6,613.9 830.8,617.7 841.0,618.9 834.7,617.0 842.3,619.6 849.3,621.5 848.6,617.0 853.7,613.9 857.5,609.4 864.5,608.8 867.7,611.3 871.5,613.9 880.4,610.1 885.4,608.8 886.1,603.1 891.8,601.2" fill="#fad4fa"/><polyline points="770.5,464.5 771.2,473.1 768.9,481.7 765.6,486.4 764.5,489.6 765.5,497.2 767.6,507.1" fill="none" stroke="#000" stroke-width="0.8"/><polygon points="777.6,382.2 779.7,381.8 780.6,385.2 778.5,385.6" fill="#fff"/><polygon points="781.0,386.1 784.0,385.6 785.3,387.8 782.3,388.2" fill="#fff"/><polygon points="893.1,516.6 895.6,515.6 898.1,518.6 896.1,520.1 894.1,519.1" fill="#fff"/><polygon points="900.4,521.6 901.9,522.1 902.6,525.4 901.1,525.1" fill="#fff"/><polygon points="801.4,380.5 805.3,385.2 804.4,385.2 801.0,381.4" fill="#fff"/><polygon points="815.5,394.8 822.3,398.6 821.0,398.8 816.3,396.2" fill="#fff"/><polyline points="896.6,517.1 899.1,519.6 900.6,520.6 902.1,523.6 903.6,526.1 904.1,528.6 905.6,531.1 906.1,533.6 907.6,536.6 908.2,538.1" fill="none" stroke="#000" stroke-width="0.8"/><polyline points="791.2,383.5 794.2,384.4 793.8,386.1 791.6,385.6 791.2,383.5" fill="none" stroke="#000" stroke-width="0.8"/><polyline points="862.9,450.5 864.5,452.4 863.9,453.9" fill="none" stroke="#000" stroke-width="0.8"/><polyline points="865.8,461.0 867.7,462.3 866.7,464.0" fill="none" stroke="#000" stroke-width="0.8"/><polyline points="876.8,472.7 878.1,475.2 877.6,476.7" fill="none" stroke="#000" stroke-width="0.8"/><polyline points="879.7,487.9 881.0,490.4 880.4,492.0" fill="none" stroke="#000" stroke-width="0.8"/><polyline points="845.5,430.2 847.4,432.1 848.6,434.9 847.1,435.6" fill="none" stroke="#000" stroke-width="0.8"/></g>
<rect x="541" y="648" width="7" height="5" fill="#f1e6a6"/><rect x="548" y="648" width="25" height="5" fill="#eedc82"/><rect x="573" y="648" width="25" height="5" fill="#ffff00"/><rect x="598" y="648" width="25" height="5" fill="#ffd700"/><rect x="623" y="648" width="25" height="5" fill="#ffa500"/><rect x="648" y="648" width="25.5" height="5" fill="#ff8c00"/><rect x="673.5" y="648" width="25.5" height="5" fill="#e85050"/><rect x="699" y="648" width="25" height="5" fill="#ff1a1a"/><rect x="724" y="648" width="15" height="5" fill="#c8102e"/><text x="565" y="659" text-anchor="middle" font-size="4.6" fill="#555">100</text><text x="611" y="659" text-anchor="middle" font-size="4.6" fill="#555">200</text><text x="656.7" y="659" text-anchor="middle" font-size="4.6" fill="#555">300</text><text x="702.7" y="659" text-anchor="middle" font-size="4.6" fill="#555">400</text><text x="627" y="666.6" text-anchor="middle" font-size="6" font-weight="bold" fill="#3a3a3a" textLength="74" lengthAdjust="spacingAndGlyphs">Dengue Fever [cases/month]</text><rect x="742.5" y="648" width="186.5" height="5" fill="url(#incg)"/><text x="755" y="659" text-anchor="middle" font-size="4.6" fill="#555">1</text><text x="780.5" y="659" text-anchor="middle" font-size="4.6" fill="#555">2</text><text x="806" y="659" text-anchor="middle" font-size="4.6" fill="#555">3</text><text x="831.5" y="659" text-anchor="middle" font-size="4.6" fill="#555">4</text><text x="857" y="659" text-anchor="middle" font-size="4.6" fill="#555">5</text><text x="882.5" y="659" text-anchor="middle" font-size="4.6" fill="#555">6</text><text x="908" y="659" text-anchor="middle" font-size="4.6" fill="#555">7</text><text x="858" y="666.6" text-anchor="middle" font-size="6" font-weight="bold" fill="#3a3a3a" textLength="86" lengthAdjust="spacingAndGlyphs">Dengue Fever [incidence/month]</text>
<rect x="42.2" y="744.2" width="32.5" height="32.5" rx="3.5" fill="#1e4489"/><path d="M55.5,773.8 V763.7 H50.7 V759.4 H55.5 V756 C55.5,752 58,750 61.8,750 C63.5,750 65,750.2 66,750.4 V754.4 H63.6 C61.3,754.4 60.7,755.2 60.7,756.8 V759.4 H65.3 L64.7,763.7 H60.7 V773.8 Z" fill="#fff"/><rect x="87.8" y="744.2" width="32.5" height="32.5" rx="2.5" fill="#1da1f2"/><path transform="translate(93.6,750.3) scale(0.885)" d="M23.95,4.57c-.88.39-1.83.65-2.82.77a4.93,4.93,0,0,0,2.16-2.72,9.8,9.8,0,0,1-3.13,1.2A4.92,4.92,0,0,0,11.78,8.3,13.94,13.94,0,0,1,1.64,3.16,4.82,4.82,0,0,0,1,5.63,4.9,4.9,0,0,0,3.16,9.72a4.9,4.9,0,0,1-2.23-.61v.06a4.92,4.92,0,0,0,3.95,4.83,5,5,0,0,1-2.21.08,4.94,4.94,0,0,0,4.6,3.42A9.87,9.87,0,0,1,1.17,19.6,10.4,10.4,0,0,1,0,19.54a14,14,0,0,0,7.56,2.21c9.05,0,14-7.5,14-14,0-.21,0-.42,0-.63A10,10,0,0,0,24,4.59Z" fill="#fff"/><rect x="132.6" y="743.2" width="32.5" height="32.5" rx="7" fill="url(#ig)"/><rect x="138.6" y="749.2" width="20.5" height="20.5" rx="5.5" fill="none" stroke="#fff" stroke-width="2.2"/><circle cx="148.85" cy="759.45" r="5" fill="none" stroke="#fff" stroke-width="2.2"/><circle cx="155" cy="753.3" r="1.4" fill="#fff"/>
<path d="M47.90,33.40 L47.90,62.09 C47.90,69.91 45.29,71.70 38.12,71.70" fill="none" stroke="#000" stroke-width="7.6"/><path d="M136.40,169.30 L136.40,182.06 C136.40,185.54 135.24,186.34 132.05,186.34" fill="none" stroke="#000" stroke-width="3.7"/><path d="M429.70,169.30 L429.70,182.06 C429.70,185.54 428.54,186.34 425.35,186.34" fill="none" stroke="#000" stroke-width="3.7"/><path d="M718.00,173.10 L718.00,185.86 C718.00,189.34 716.84,190.14 713.65,190.14" fill="none" stroke="#000" stroke-width="3.7"/>
<g transform="translate(773.68,731.79) scale(0.06191)"><path d="M72,360 L76,430 L98,510 L138,582 L198,650 L268,700 L338,728 L400,738 L470,732 L540,708 L610,660 L665,600 L700,535 L716,478 L700,520 L660,600 L600,655 L520,690 L405,700 L300,680 L200,620 L130,530 L95,440 L86,375 Z" fill="#1dcd94" stroke="#1dcd94" stroke-width="3" stroke-linejoin="round"/><circle cx="405" cy="375" r="315" fill="url(#glba)"/><g clip-path="url(#glca)"><path d="M60,345 L92,345 L130,350 L175,355 L215,335 L245,345 L225,375 L205,410 L185,450 L165,465 L180,490 L175,520 L195,555 L213,580 L206,612 L232,630 L256,648 L270,632 L252,612 L240,590 L247,568 L280,560 L330,570 L360,585 L370,610 L366,640 L352,665 L358,690 L390,682 L404,650 L414,610 L397,585 L387,562 L420,545 L470,545 L520,550 L560,545 L610,505 L650,495 L690,470 L720,470 L780,470 L780,760 L40,760 Z" fill="#fff" stroke="#fff" stroke-width="1.5" stroke-linejoin="round"/><path d="M215,305 L245,298 L242,320 L220,326 Z M550,430 L600,400 L640,393 L642,415 L600,440 L560,446 Z M150,182 L163,178 L166,198 L154,200 Z" fill="#fff" stroke="#fff" stroke-width="3" stroke-linejoin="round"/></g><path d="M470,700 L480,640 L500,600 L560,555 L608,525 L614,535 L578,575 L560,595 L570,608 L620,590 L660,555 L700,505 L716,478 L712,540 L680,600 L620,660 L540,705 Z" fill="#1dcd94" stroke="#1dcd94" stroke-width="5" stroke-linejoin="round"/></g>
</svg>
<div id="title" class="t" style="left:54.80px;top:27.15px;font-size:45.9px;-webkit-text-stroke:0.9px #000;font-weight:bold;font-style:normal;color:#000;transform:scaleX(0.9691);">ANUARY</div>
<div id="title2" class="t" style="left:254.40px;top:27.15px;font-size:45.9px;-webkit-text-stroke:0.9px #000;font-weight:bold;font-style:normal;color:#000;transform:scaleX(0.9717);">2024</div>
<div id="title3" class="t" style="left:366.40px;top:27.15px;font-size:45.9px;-webkit-text-stroke:0.9px #000;font-weight:bold;font-style:normal;color:#000;transform:scaleX(0.9362);">-</div>
<div id="title4" class="t" style="left:393.60px;top:27.15px;font-size:45.9px;-webkit-text-stroke:0.9px #000;font-weight:bold;font-style:normal;color:#000;transform:scaleX(0.9195);">DENGUE</div>
<div id="title5" class="t" style="left:590.40px;top:27.15px;font-size:45.9px;-webkit-text-stroke:0.9px #000;font-weight:bold;font-style:normal;color:#000;transform:scaleX(0.9275);">UPDATE</div>
<div id="hash" class="t" style="left:393.00px;top:89.75px;font-size:30.3px;-webkit-text-stroke:0.5px #000;font-weight:bold;font-style:italic;color:#000;transform:scaleX(1.0072);">#diseaselk</div>
<div id="n1" class="t" style="left:36.40px;top:161.95px;font-size:29px;-webkit-text-stroke:0.5px #fff;font-weight:bold;font-style:normal;color:#fff;transform:scaleX(0.9888);">12955</div>
<div id="n2" class="t" style="left:342.90px;top:162.52px;font-size:23.6px;-webkit-text-stroke:0.5px #fff;font-weight:bold;font-style:normal;color:#fff;transform:scaleX(1.1378);">8963</div>
<div id="n3" class="t" style="left:632.90px;top:166.02px;font-size:23.6px;-webkit-text-stroke:0.5px #fff;font-weight:bold;font-style:normal;color:#fff;transform:scaleX(1.1286);">6161</div>
<div id="l1a" class="t" style="left:132.40px;top:142.05px;font-size:21.2px;-webkit-text-stroke:0.4px #000;font-weight:bold;font-style:normal;color:#000;transform:scaleX(0.9015);">CASES IN</div>
<div id="l1b" class="t" style="left:139.80px;top:165.55px;font-size:21.2px;-webkit-text-stroke:0.4px #000;font-weight:bold;font-style:normal;color:#000;transform:scaleX(0.9604);">ANUARY</div>
<div id="l1c" class="t" style="left:133.40px;top:189.05px;font-size:21.2px;-webkit-text-stroke:0.4px #000;font-weight:bold;font-style:normal;color:#000;transform:scaleX(0.9488);">2024</div>
<div id="l2a" class="t" style="left:425.90px;top:142.05px;font-size:21.2px;-webkit-text-stroke:0.4px #000;font-weight:bold;font-style:normal;color:#000;transform:scaleX(0.8965);">CASES IN</div>
<div id="l2b" class="t" style="left:433.20px;top:165.55px;font-size:21.2px;-webkit-text-stroke:0.4px #000;font-weight:bold;font-style:normal;color:#000;transform:scaleX(0.9392);">ANUARY</div>
<div id="l2c" class="t" style="left:426.90px;top:189.05px;font-size:21.2px;-webkit-text-stroke:0.4px #000;font-weight:bold;font-style:normal;color:#000;transform:scaleX(0.9694);">2023</div>
<div id="l3a" class="t" style="left:714.40px;top:145.55px;font-size:21.2px;-webkit-text-stroke:0.4px #000;font-weight:bold;font-style:normal;color:#000;transform:scaleX(0.9046);">AVERAGE CASES IN</div>
<div id="l3b" class="t" style="left:720.80px;top:169.05px;font-size:21.2px;-webkit-text-stroke:0.4px #000;font-weight:bold;font-style:normal;color:#000;transform:scaleX(0.9550);">ANUARY</div>
<div id="l3c" class="t" style="left:713.40px;top:193.55px;font-size:21.2px;-webkit-text-stroke:0.4px #000;font-weight:bold;font-style:normal;color:#000;transform:scaleX(0.9228);">(10 YEARS)</div>
<div id="ct1" class="t" style="left:77.90px;top:341.83px;font-size:15.8px;-webkit-text-stroke:0.3px #000;font-weight:bold;font-style:normal;color:#000;transform:scaleX(1.0462);">Monthly dengue cases for 2024, 2023 and 10 year</div>
<div id="ct2" class="t" style="left:126.90px;top:361.83px;font-size:15.8px;-webkit-text-stroke:0.3px #000;font-weight:bold;font-style:normal;color:#000;transform:scaleX(1.0707);">average with and without epidemics</div>
<div id="lg1" class="t" style="left:99.40px;top:382.18px;font-size:11.6px;font-weight:bold;font-style:normal;color:#444;transform:scaleX(1.0224);">Year - 2023 cases</div>
<div id="lg2" class="t" style="left:99.40px;top:399.18px;font-size:11.6px;font-weight:bold;font-style:normal;color:#444;transform:scaleX(1.0224);">Year - 2024 cases</div>
<div id="lg3" class="t" style="left:242.40px;top:382.18px;font-size:11.6px;font-weight:bold;font-style:normal;color:#444;transform:scaleX(1.0120);">Average cases (past 10 years)</div>
<div id="lg4" class="t" style="left:242.40px;top:399.18px;font-size:11.6px;font-weight:bold;font-style:normal;color:#444;transform:scaleX(1.0097);">Average cases (past 10 years) without epidemics</div>
<div id="cp1" class="t" style="left:58.40px;top:639.16px;font-size:13.4px;-webkit-text-stroke:0.25px #000;font-weight:bold;font-style:normal;color:#000;transform:scaleX(0.9242);">Dengue cases in Sri Lanka during 2023, 2024 compared with 10 year average</div>
<div id="cp2" class="t" style="left:201.90px;top:654.66px;font-size:13.4px;-webkit-text-stroke:0.25px #000;font-weight:bold;font-style:normal;color:#000;transform:scaleX(0.9506);">with and without epidemics</div>
<div id="mt1" class="t" style="left:573.00px;top:343.78px;font-size:16.8px;-webkit-text-stroke:0.3px #000;font-weight:bold;font-style:normal;color:#000;transform:scaleX(0.9683);">No.of cases</div>
<div id="mt2" class="t" style="left:706.40px;top:336.51px;font-size:15.7px;-webkit-text-stroke:0.3px #000;font-weight:bold;font-style:normal;color:#000;transform:scaleX(1.0384);">Incidence (Cases per 10000</div>
<div id="mt3" class="t" style="left:778.80px;top:356.71px;font-size:15.7px;-webkit-text-stroke:0.3px #000;font-weight:bold;font-style:normal;color:#000;transform:scaleX(1.0232);">persons)</div>
<div id="visit" class="t" style="left:298.40px;top:684.50px;font-size:18.9px;-webkit-text-stroke:0.2px #111;font-weight:normal;font-style:italic;color:#111;transform:scaleX(0.9767);">Visit www.disease.lk/dengue to read more</div>
<div id="at" class="t" style="left:178.40px;top:749.06px;font-size:18.6px;-webkit-text-stroke:0.55px #fff;font-weight:bold;font-style:normal;color:#fff;transform:scaleX(1.0130);">@diseaselk</div>
<div id="www" class="t" style="left:400.40px;top:748.86px;font-size:18.6px;-webkit-text-stroke:0.55px #fff;font-weight:bold;font-style:normal;color:#fff;transform:scaleX(1.0544);">www.disease.lk</div>
<div id="tc1" class="t" style="left:824.40px;top:738.02px;font-size:20.3px;font-weight:normal;font-style:normal;color:#fff;transform:scaleX(0.8811);">Tropical</div>
<div id="tc2" class="t" style="left:824.40px;top:758.02px;font-size:20.3px;font-weight:normal;font-style:normal;color:#fff;transform:scaleX(0.9149);">Climate</div>
<div id="s0" class="sj" style="top:237.77px"><b>Summary:</b> Dengue showing an alarming rise, it may be driven by the seasonably warmer temperatures</div><div id="s1" class="sj" style="top:260.77px">due to the El Nino. Jaffna (3252) has the highest number of cases, followed by Colombo (2173) and</div><div id="s2" class="sj" style="top:283.52px">Kandy (913). The highest incidence was in Jaffna (52.7), Kilinochchi (12.7), Mullaitivu (12.0), and Mannar</div><div id="s3" class="sn" style="top:306.52px">(11.7) for 10,000 persons.</div>
</div>
</body></html>
